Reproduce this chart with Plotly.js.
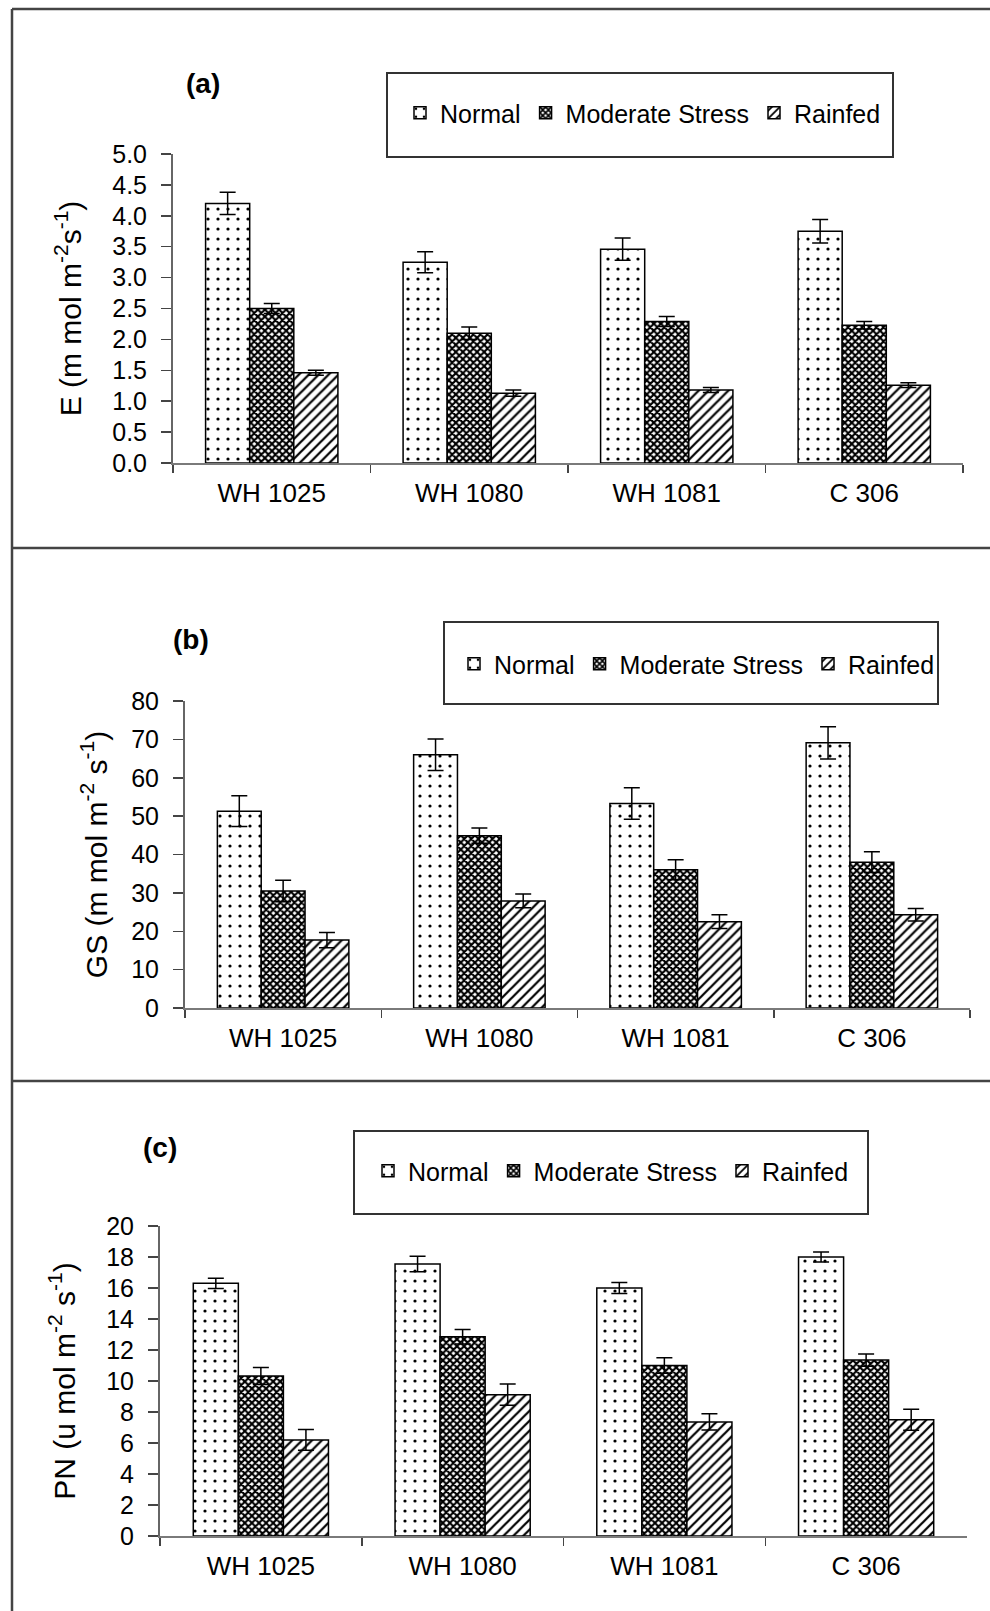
<!DOCTYPE html>
<html><head><meta charset="utf-8">
<script src="https://cdn.plot.ly/plotly-3.0.1.min.js"></script>
<style>html,body{margin:0;padding:0;background:#fff}#chart{width:990px;height:1611px}</style>
</head><body><div id="chart"></div>
<script>
// ---------- data ----------
const categories = ['WH 1025', 'WH 1080', 'WH 1081', 'C 306'];
const seriesNames = ['Normal', 'Moderate Stress', 'Rainfed'];

// (a) E (transpiration)
const eNormal      = [4.20, 3.25, 3.46, 3.75];
const eNormalErr   = [0.18, 0.17, 0.18, 0.19];
const eModerate    = [2.50, 2.10, 2.29, 2.23];
const eModerateErr = [0.08, 0.10, 0.08, 0.06];
const eRainfed     = [1.46, 1.13, 1.18, 1.26];
const eRainfedErr  = [0.04, 0.05, 0.04, 0.04];

// (b) GS (stomatal conductance)
const gsNormal      = [51.3, 66.0, 53.3, 69.1];
const gsNormalErr   = [4.0, 4.1, 4.1, 4.2];
const gsModerate    = [30.5, 44.9, 36.0, 38.0];
const gsModerateErr = [2.8, 2.0, 2.6, 2.7];
const gsRainfed     = [17.7, 27.9, 22.5, 24.3];
const gsRainfedErr  = [2.0, 1.8, 1.8, 1.6];

// (c) PN (photosynthesis)
const pnNormal      = [16.3, 17.55, 16.0, 18.0];
const pnNormalErr   = [0.33, 0.50, 0.35, 0.32];
const pnModerate    = [10.32, 12.85, 11.0, 11.35];
const pnModerateErr = [0.55, 0.47, 0.50, 0.40];
const pnRainfed     = [6.2, 9.12, 7.36, 7.5];
const pnRainfedErr  = [0.67, 0.69, 0.52, 0.67];

const panelLabels = ['(a)', '(b)', '(c)'];
const yTitles = [
  'E (m mol m<sup>-2</sup>s<sup>-1</sup>)',
  'GS (m mol m<sup>-2</sup> s<sup>-1</sup>)',
  'PN (u mol m<sup>-2</sup> s<sup>-1</sup>)'
];
const yTickFormats = ['.1f', 'd', 'd'];
const yRanges = [[0, 5], [0, 80], [0, 20]];
const yDticks = [0.5, 10, 2];

// ---------- styling / geometry (pixels) ----------
const W = 990, H = 1611;
const FONT = '"Liberation Sans", Arial, sans-serif';
const px = x => x / W;
const py = y => 1 - y / H;

const geo = [
  {x0: 173, x1: 963, y0: 154, y1: 463, box: [387, 73, 893, 157], legY: 113, legX: 414, lab: [203, 83], standoff: 22},
  {x0: 185, x1: 970, y0: 701, y1: 1008, box: [444, 622, 938, 704], legY: 664, legX: 468, lab: [191, 639], standoff: 15},
  {x0: 160, x1: 967, y0: 1226, y1: 1536, box: [354, 1131, 868, 1214], legY: 1171, legX: 382, lab: [160, 1147], standoff: 22}
];

const patterns = [
  {shape: '.', fgcolor: '#000', bgcolor: '#fff', size: 10, solidity: 0.08},
  {shape: 'x', fgcolor: '#000', bgcolor: '#fff', size: 5, solidity: 0.66},
  {shape: '/', fgcolor: '#000', bgcolor: '#fff', size: 7, solidity: 0.32}
];

const panelData = [
  [[eNormal, eNormalErr], [eModerate, eModerateErr], [eRainfed, eRainfedErr]],
  [[gsNormal, gsNormalErr], [gsModerate, gsModerateErr], [gsRainfed, gsRainfedErr]],
  [[pnNormal, pnNormalErr], [pnModerate, pnModerateErr], [pnRainfed, pnRainfedErr]]
];

const traces = [];
const layout = {
  width: W, height: H,
  margin: {l: 0, r: 0, t: 0, b: 0},
  paper_bgcolor: '#fff', plot_bgcolor: 'rgba(0,0,0,0)',
  barmode: 'group', bargap: 0.33, bargroupgap: 0,
  font: {family: FONT, color: '#000'},
  showlegend: true,
  shapes: [], annotations: []
};

panelData.forEach((series, p) => {
  const s = p === 0 ? '' : String(p + 1);
  series.forEach((pair, k) => {
    traces.push({
      type: 'bar', name: seriesNames[k], x: categories, y: pair[0],
      xaxis: 'x' + s, yaxis: 'y' + s,
      legend: 'legend' + s,
      marker: {color: '#fff', line: {color: '#000', width: 1.5}, pattern: patterns[k]},
      error_y: {type: 'data', array: pair[1], visible: true, color: '#000', thickness: 1.5, width: 8},
      hoverinfo: 'skip'
    });
  });
  const g = geo[p];
  layout['xaxis' + s] = {
    domain: [px(g.x0), px(g.x1)], anchor: 'y' + s, type: 'category',
    showline: true, linecolor: '#7a7a7a', linewidth: 2,
    ticks: 'outside', tickson: 'boundaries', ticklen: 8, tickcolor: '#444', tickwidth: 1.5,
    tickfont: {size: 26, family: FONT, color: '#000'}, ticklabelstandoff: 6,
    showgrid: false, zeroline: false, fixedrange: true
  };
  layout['yaxis' + s] = {
    domain: [py(g.y1), py(g.y0)], anchor: 'x' + s,
    range: yRanges[p], dtick: yDticks[p], tick0: 0, tickformat: yTickFormats[p],
    showline: true, linecolor: '#666', linewidth: 2,
    ticks: 'outside', ticklen: 10, tickcolor: '#444', tickwidth: 1.5,
    tickfont: {size: 25, family: FONT, color: '#000'}, ticklabelstandoff: 9,
    showgrid: false, zeroline: false, fixedrange: true,
    title: {text: yTitles[p], font: {size: 30, family: FONT, color: '#000'}, standoff: g.standoff}
  };
  layout['legend' + s] = {
    orientation: 'h', x: px(g.legX - 14), y: py(g.legY), xanchor: 'left', yanchor: 'middle',
    bgcolor: 'rgba(0,0,0,0)', borderwidth: 0, traceorder: 'normal',
    font: {size: 25, family: FONT, color: '#000'}, itemclick: false, itemdoubleclick: false
  };
  layout.shapes.push({
    type: 'rect', xref: 'paper', yref: 'paper',
    x0: px(g.box[0]), x1: px(g.box[2]), y0: py(g.box[3]), y1: py(g.box[1]),
    line: {color: '#333', width: 2}, fillcolor: 'rgba(0,0,0,0)', layer: 'below'
  });
  layout.annotations.push({
    xref: 'paper', yref: 'paper', x: px(g.lab[0]), y: py(g.lab[1]),
    xanchor: 'center', yanchor: 'middle', showarrow: false,
    text: '<b>' + panelLabels[p] + '</b>', font: {size: 28, family: FONT, color: '#000'}
  });
});

// panel frame lines
const frameColor = '#444';
[[12, 9, W, 9], [12, 548, W, 548], [12, 1081, W, 1081], [12, 9, 12, H]].forEach(l => {
  layout.shapes.push({type: 'line', xref: 'paper', yref: 'paper',
    x0: px(l[0]), y0: py(l[1]), x1: px(l[2]), y1: py(l[3]),
    line: {color: frameColor, width: 2.5}});
});

Plotly.newPlot('chart', traces, layout, {staticPlot: true, displayModeBar: false});
</script>
</body></html>
